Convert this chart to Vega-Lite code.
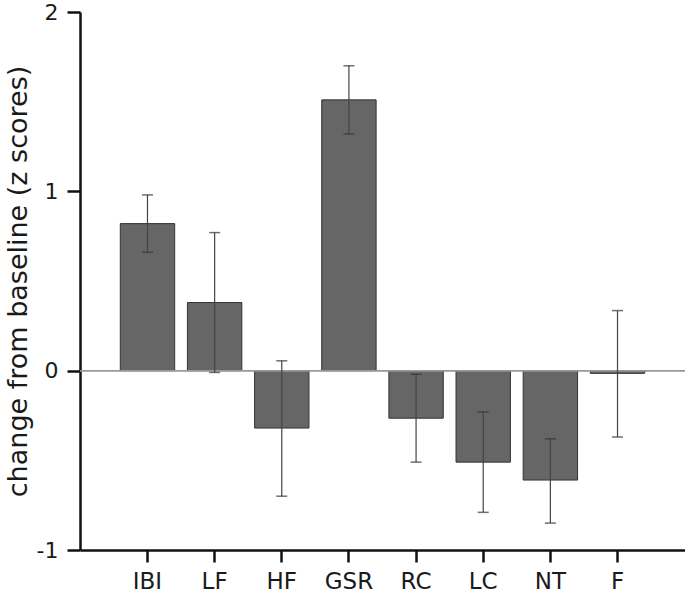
{
  "$schema": "https://vega.github.io/schema/vega-lite/v6.json",
  "width": 605,
  "height": 538,
  "autosize": {"type": "none"},
  "padding": {"left": 80, "top": 12, "right": 0, "bottom": 50},
  "background": "white",
  "config": {"view": {"stroke": null}, "font": "DejaVu Sans"},
  "data": {
    "values": [
      {"measure": "IBI", "value": 0.82, "lo": 0.66, "hi": 0.98},
      {"measure": "LF", "value": 0.38, "lo": -0.01, "hi": 0.77},
      {"measure": "HF", "value": -0.32, "lo": -0.70, "hi": 0.055},
      {"measure": "GSR", "value": 1.51, "lo": 1.32, "hi": 1.70},
      {"measure": "RC", "value": -0.265, "lo": -0.51, "hi": -0.02},
      {"measure": "LC", "value": -0.51, "lo": -0.79, "hi": -0.23},
      {"measure": "NT", "value": -0.61, "lo": -0.85, "hi": -0.38},
      {"measure": "F", "value": -0.015, "lo": -0.37, "hi": 0.335}
    ]
  },
  "encoding": {
    "x": {
      "field": "measure",
      "type": "nominal",
      "sort": null,
      "scale": {"paddingInner": 0.19, "paddingOuter": 0.6},
      "axis": {
        "title": null,
        "labelAngle": 0,
        "labelFontSize": 23,
        "labelColor": "#1a1a1a",
        "labelPadding": 8,
        "tickSize": 12,
        "tickWidth": 2.5,
        "tickColor": "#111",
        "domainColor": "#111",
        "domainWidth": 2.5,
        "offset": 0
      }
    }
  },
  "layer": [
    {
      "mark": {"type": "bar", "color": "#666666", "stroke": "#333333", "strokeWidth": 1},
      "encoding": {
        "y": {
          "field": "value",
          "type": "quantitative",
          "scale": {"domain": [-1, 2], "nice": false, "zero": false},
          "axis": {
            "title": "change from baseline (z scores)",
            "titleFontSize": 27,
            "titleFontWeight": "normal",
            "titleColor": "#1a1a1a",
            "titlePadding": 4,
            "values": [-1, 0, 1, 2],
            "labelExpr": "'' + datum.value",
            "grid": false,
            "labelFontSize": 22,
            "labelColor": "#1a1a1a",
            "labelPadding": 9,
            "tickSize": 13,
            "tickWidth": 2.5,
            "tickColor": "#111",
            "domainColor": "#111",
            "domainWidth": 2.5
          }
        }
      }
    },
    {
      "mark": {"type": "rule", "color": "#999999", "strokeWidth": 1},
      "encoding": {
        "y": {"datum": 0, "type": "quantitative"},
        "x": {"value": 0},
        "x2": {"value": 605}
      }
    },
    {
      "mark": {"type": "rule", "color": "#444444", "strokeWidth": 1.2},
      "encoding": {
        "y": {"field": "lo", "type": "quantitative"},
        "y2": {"field": "hi"}
      }
    },
    {
      "mark": {"type": "tick", "color": "#333333", "thickness": 1.5, "size": 11},
      "encoding": {
        "y": {"field": "lo", "type": "quantitative"}
      }
    },
    {
      "mark": {"type": "tick", "color": "#333333", "thickness": 1.5, "size": 11},
      "encoding": {
        "y": {"field": "hi", "type": "quantitative"}
      }
    }
  ]
}
